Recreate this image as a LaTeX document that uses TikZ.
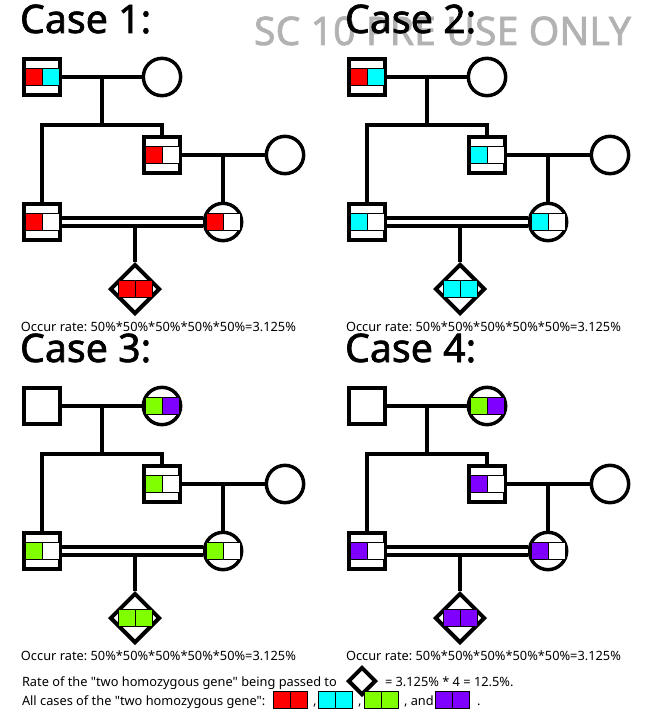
\documentclass[tikz,border=0pt]{standalone}
\usepackage{fontspec}
\setmainfont{Noto Sans}[Ligatures=TeXOff]
\newfontfamily\headfont{Noto Sans}[Ligatures=TeXOff, FakeBold=1.6]
\usepackage{tikz}
\usetikzlibrary{shapes.geometric}

\definecolor{genered}{RGB}{255,0,0}
\definecolor{genecyan}{RGB}{0,255,255}
\definecolor{genegreen}{RGB}{128,255,0}
\definecolor{genepurple}{RGB}{128,0,255}
\definecolor{markgray}{RGB}{178,178,178}

\tikzset{
  male/.style={draw, rectangle, fill=white, minimum size=27pt, inner sep=0pt, line width=3pt},
  female/.style={draw, circle, fill=white, minimum size=28pt, inner sep=0pt, line width=2.6pt},
  unknown/.style={draw, diamond, fill=white, minimum size=37.5pt, inner sep=0pt, line width=3pt},
  allele/.style={draw, line width=0.75pt, minimum width=12.75pt, minimum height=12.75pt, inner sep=0pt, outer sep=0pt},
  title/.style={inner sep=0pt, anchor=base west, font=\headfont\fontsize{29.5}{32}\selectfont},
  note/.style={inner sep=0pt, anchor=base west, font=\frenchspacing\fontsize{9.6}{11}\selectfont},
}

% two alleles side by side, centred on #2
\newcommand{\genes}[4]{%
  \node[allele, fill=#3, anchor=east] (#1l) at (#2) {};
  \node[allele, fill=#4, anchor=west] (#1r) at (#2) {};
}

\begin{document}
\begin{tikzpicture}[x=0.75pt, y=-0.75pt, line width=3pt]
    \fill[white] (0,0) rectangle (644,710);
    \useasboundingbox (0,0) rectangle (644,710);

    \node[inner sep=0pt, anchor=base west, text=markgray, font=\headfont\fontsize{29.5}{32}\selectfont] (mark) at (252,45) {SC 10 PRE USE ONLY};

    \foreach \n/\dx/\dy/\kid in {1/0/0/genered, 2/325/0/genecyan, 3/0/329/genegreen, 4/325/329/genepurple}{
      \begin{scope}[shift={(\dx,\dy)}]
        \node[title] (case\n) at (18,33) {Case \n:};

        \node[male] (f\n) at (42,77) {};
        \node[female] (m\n) at (162,77) {};
        \node[male] (s\n) at (162,155) {};
        \node[female] (w\n) at (285,155) {};
        \node[male] (c\n) at (42,222) {};
        \node[female] (d\n) at (223,222) {};
        \node[unknown] (x\n) at (135,289) {};

        \draw (f\n) -- (m\n) coordinate[midway] (fm\n);
        \draw (fm\n) -- ++(0,48) coordinate (sib\n);
        \draw (c\n.north) |- (sib\n) -| (s\n.north);
        \draw (s\n) -- (w\n) coordinate[midway] (sw\n);
        \draw (sw\n) -- (sw\n |- d\n.north);

        \path (c\n) -- (d\n) coordinate[pos=0.52] (cd\n);
        \draw (cd\n) -- (cd\n |- x\n.north);
        \draw[double, double distance=3pt] (c\n) -- (d\n);

        \genes{gs\n}{s\n}{\kid}{white}
        \genes{gc\n}{c\n}{\kid}{white}
        \genes{gd\n}{d\n}{\kid}{white}
        \genes{gx\n}{x\n}{\kid}{\kid}

        \node[note] (rate\n) at (19,331) {Occur rate: 50\%*50\%*50\%*50\%*50\%=3.125\%};
      \end{scope}
    }

    % first generation carriers
    \foreach \n in {1,2} {\genes{gf\n}{f\n}{genered}{genecyan}}
    \foreach \n in {3,4} {\genes{gm\n}{m\n}{genegreen}{genepurple}}

    % summary
    \node[note] (total) at (20,686) {Rate of the "two homozygous gene" being passed to};
    \node[unknown, minimum size=21pt] (key) at (362,681) {};
    \node[note] (result) at (383,686) {= 3.125\% * 4 = 12.5\%.};

    \node[note] (cases) at (20,705) {All cases of the "two homozygous gene":};
    \genes{kr}{290.5,700}{genered}{genered}
    \node[note] (comma1) at (311,705) {,};
    \genes{kc}{335.5,700}{genecyan}{genecyan}
    \node[note] (comma2) at (356,705) {,};
    \genes{kg}{381.5,700}{genegreen}{genegreen}
    \node[note] (and) at (402,705) {, and};
    \genes{kp}{452.5,700}{genepurple}{genepurple}
    \node[note] (stop) at (475,705) {.};
\end{tikzpicture}
\end{document}
